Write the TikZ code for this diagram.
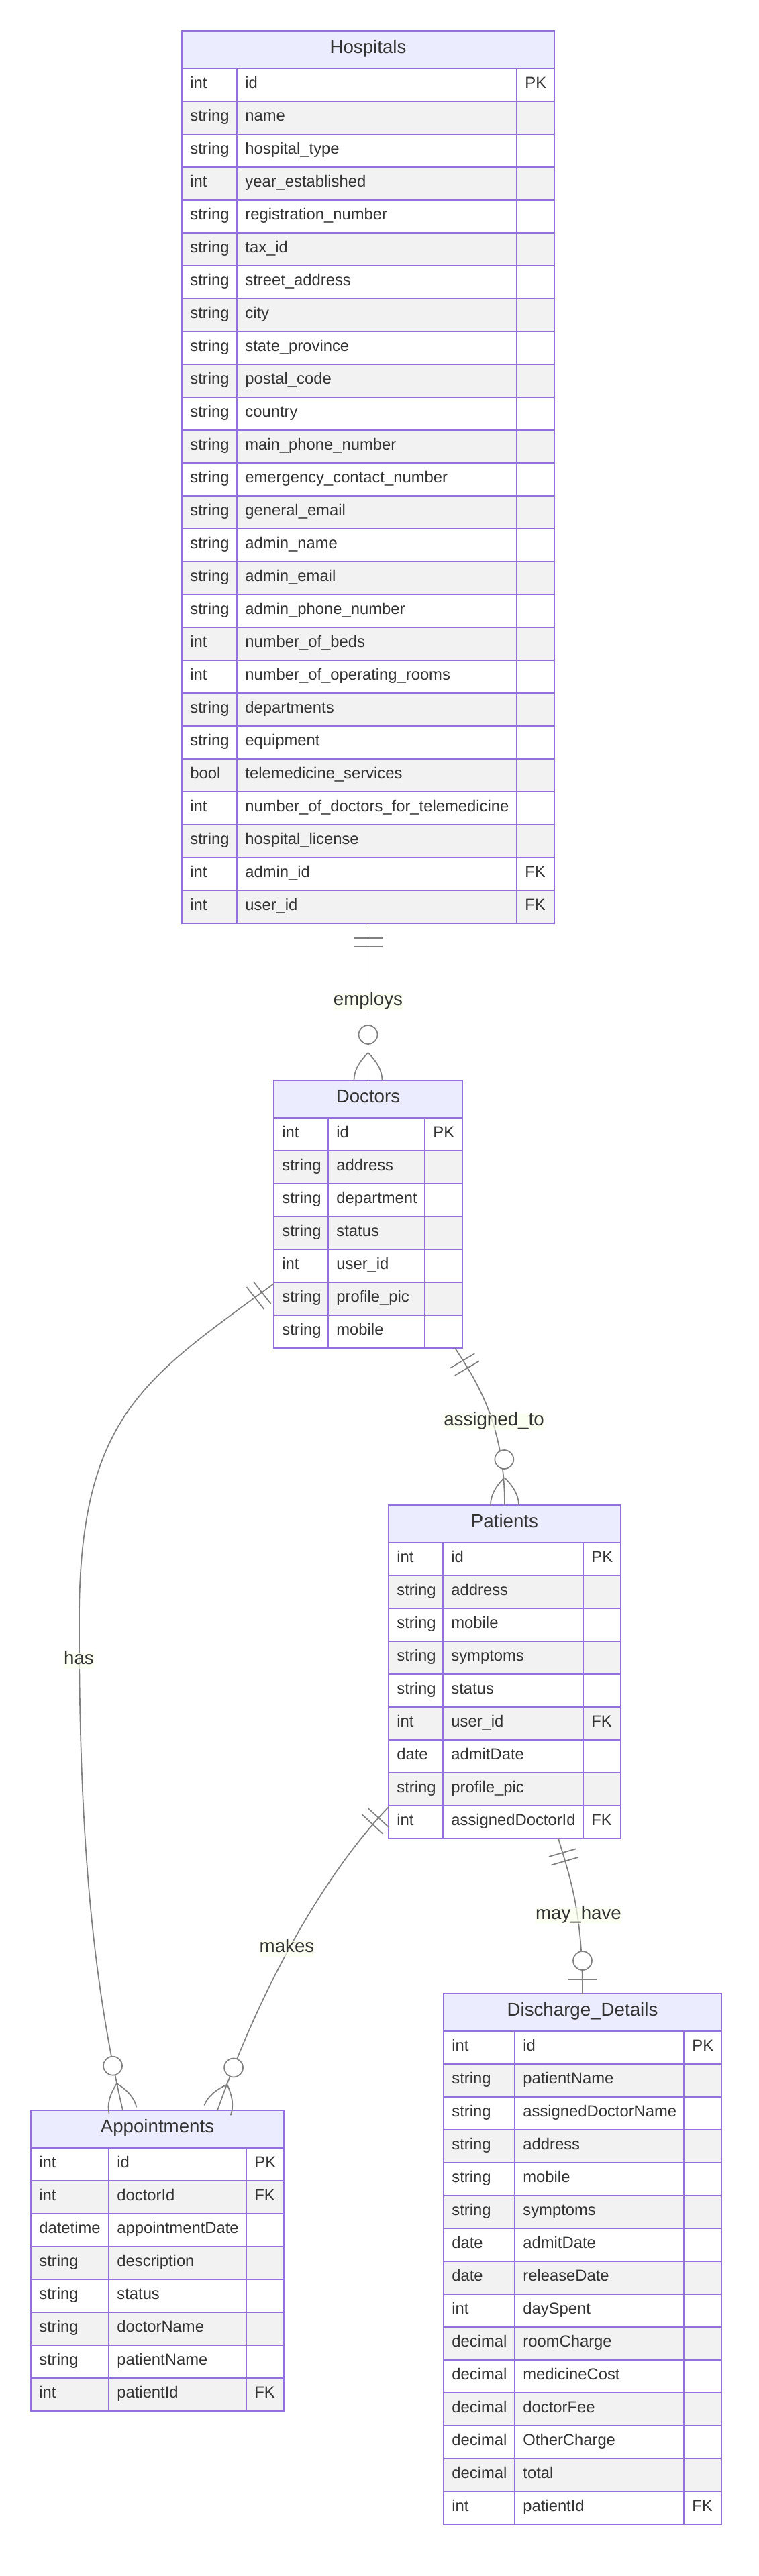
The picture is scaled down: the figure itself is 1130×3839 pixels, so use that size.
\documentclass[tikz,border=0pt]{standalone}
\usepackage{fontspec}
\setmainfont{Liberation Sans}
\usetikzlibrary{calc}

\definecolor{erborder}{HTML}{9370DB}
\definecolor{erhead}{HTML}{ECECFF}
\definecolor{ereven}{HTML}{F2F2F2}
\definecolor{ertext}{HTML}{333333}
\definecolor{erlink}{HTML}{808080}
\definecolor{erlabel}{RGB}{249,255,236}

\tikzset{
  cellbox/.style={draw=erborder,line width=1pt},
  headtext/.style={font=\fontsize{13.85}{16}\selectfont,text=ertext,inner sep=0pt,text height=0.72em,text depth=0.2em},
  attrtext/.style={font=\fontsize{11.9}{14}\selectfont,text=ertext,inner sep=0pt,anchor=west,text height=0.72em,text depth=0.2em},
  relline/.style={draw=erlink,line width=0.85pt},
  rellabel/.style={font=\fontsize{13.85}{16}\selectfont,text=ertext,fill=erlabel,fill opacity=0.7,text opacity=1,inner xsep=0pt,inner ysep=1.2pt,text height=0.75em,text depth=0.22em}
}

% entity: name, left, split1, split2, right, top, rows, title, {type/name/key,...}
\newcommand{\erentity}[9]{%
  \pgfmathsetmacro{\eb}{#6+56+#7*49}
  \pgfmathsetmacro{\ew}{(#5-#2)*0.5}
  \pgfmathsetmacro{\eh}{(\eb-#6)*0.5}
  \node[inner sep=0pt,outer sep=0pt,minimum width=\ew pt,minimum height=\eh pt] (#1) at ({(#2+#5)/2},{(#6+\eb)/2}) {};
  \draw[cellbox,fill=erhead] (#2,#6) rectangle (#5,#6+56);
  \node[headtext] (#1-title) at ({(#2+#5)/2},#6+28) {#8};
  \foreach \ty/\na/\ke [count=\i] in {#9} {
    \pgfmathsetmacro{\ya}{#6+56+(\i-1)*49}
    \pgfmathsetmacro{\yb}{\ya+49}
    \pgfmathsetmacro{\ym}{\ya+24.5}
    \ifodd\i\relax\def\rowfill{white}\else\def\rowfill{ereven}\fi
    \draw[cellbox,fill=\rowfill] (#2,\ya) rectangle (#3,\yb);
    \draw[cellbox,fill=\rowfill] (#3,\ya) rectangle (#4,\yb);
    \draw[cellbox,fill=\rowfill] (#4,\ya) rectangle (#5,\yb);
    \node[attrtext] (#1-t\i) at (#2+12,\ym) {\ty};
    \node[attrtext] (#1-n\i) at (#3+12,\ym) {\na};
    \node[attrtext] (#1-k\i) at (#4+12,\ym) {\ke};
  }
}

% markers: entity point, direction point
\newcommand{\markone}[2]{%
  \foreach \d in {11pt,17.5pt} {
    \coordinate (mk) at ($(#1)!\d!(#2)$);
    \draw[relline] ($(mk)!10.5pt!90:(#2)$) -- ($(mk)!10.5pt!-90:(#2)$);
  }
}
\newcommand{\markmany}[2]{%
  \coordinate (mk-a) at ($(#1)!20.5pt!(#2)$);
  \coordinate (mk-c) at ($(#1)!13.67pt!(#2)$);
  \coordinate (mk-d) at ($(#1)!6.83pt!(#2)$);
  \draw[relline] (mk-a) .. controls ($(mk-c)!7pt!90:(#2)$) and ($(mk-d)!10.5pt!90:(#2)$) .. ($(#1)!10.5pt!90:(#2)$);
  \draw[relline] (mk-a) .. controls ($(mk-c)!7pt!-90:(#2)$) and ($(mk-d)!10.5pt!-90:(#2)$) .. ($(#1)!10.5pt!-90:(#2)$);
  \draw[relline,fill=white] ($(#1)!34pt!(#2)$) circle (7pt);
}
\newcommand{\markzeroone}[2]{%
  \coordinate (mk) at ($(#1)!10.5pt!(#2)$);
  \draw[relline] ($(mk)!10.5pt!90:(#2)$) -- ($(mk)!10.5pt!-90:(#2)$);
  \draw[relline,fill=white] ($(#1)!24.5pt!(#2)$) circle (7pt);
}

\begin{document}
\begin{tikzpicture}[x=0.5pt,y=-0.5pt]
\useasboundingbox (0,0) rectangle (1130,3839);

\erentity{hosp}{271}{353}{770}{826}{46}{26}{Hospitals}{int/id/PK, string/name/, string/hospital\_type/, int/year\_established/, string/registration\_number/, string/tax\_id/, string/street\_address/, string/city/, string/state\_province/, string/postal\_code/, string/country/, string/main\_phone\_number/, string/emergency\_contact\_number/, string/general\_email/, string/admin\_name/, string/admin\_email/, string/admin\_phone\_number/, int/number\_of\_beds/, int/number\_of\_operating\_rooms/, string/departments/, string/equipment/, bool/telemedicine\_services/, int/number\_of\_doctors\_for\_telemedicine/, string/hospital\_license/, int/admin\_id/FK, int/user\_id/FK}
\erentity{doc}{408}{489}{633}{689}{1610}{7}{Doctors}{int/id/PK, string/address/, string/department/, string/status/, int/user\_id/, string/profile\_pic/, string/mobile/}
\erentity{pat}{579}{660}{869}{925}{2243}{9}{Patients}{int/id/PK, string/address/, string/mobile/, string/symptoms/, string/status/, int/user\_id/FK, date/admitDate/, string/profile\_pic/, int/assignedDoctorId/FK}
\erentity{dis}{661}{767}{1019}{1075}{2971}{15}{Discharge\_Details}{int/id/PK, string/patientName/, string/assignedDoctorName/, string/address/, string/mobile/, string/symptoms/, date/admitDate/, date/releaseDate/, int/daySpent/, decimal/roomCharge/, decimal/medicineCost/, decimal/doctorFee/, decimal/OtherCharge/, decimal/total/, int/patientId/FK}
\erentity{appt}{46}{162}{367}{423}{3145}{8}{Appointments}{int/id/PK, int/doctorId/FK, datetime/appointmentDate/, string/description/, string/status/, string/doctorName/, string/patientName/, int/patientId/FK}

\coordinate (doc-a) at ($(doc.south east)+(-11,0)$);
\coordinate (doc-b) at ($(doc.north west)+(0,303)$);
\coordinate (pat-a) at ($(pat.south west)+(0,-47)$);
\coordinate (pat-b) at ($(pat.south west)+(253,0)$);
\coordinate (appt-a) at ($(appt.north west)+(137,0)$);
\coordinate (appt-b) at ($(appt.north west)+(278,0)$);

\draw[relline] (hosp.south) -- (doc.north);
\draw[relline] (doc-a) .. controls (708,2055) and (752,2120) .. (pat.north);
\draw[relline] (doc-b) .. controls (215,2055) and (117,2110) .. (118,2420) .. controls (118,2750) and (140,2960) .. (appt-a);
\draw[relline] (pat-a) .. controls (500,2775) and (400,2930) .. (appt-b);
\draw[relline] (pat-b) .. controls (850,2800) and (868,2850) .. (dis.north);

\markone{hosp.south}{548.5,1476}
\markmany{doc.north}{548.5,1510}
\markone{doc-a}{729,2095}
\markmany{pat.north}{751,2140}
\markone{doc-b}{297,2000}
\markmany{appt-a}{160,3043}
\markone{pat-a}{533,2743}
\markmany{appt-b}{361.5,3046}
\markone{pat-b}{862,2844}
\markzeroone{dis.north}{868,2900}

\node[rellabel] (employs) at (548.5,1493) {employs};
\node[rellabel] (assignedto) at (736,2119) {assigned\_to};
\node[rellabel] (has) at (117.5,2475) {has};
\node[rellabel] (makes) at (427.5,2904) {makes};
\node[rellabel] (mayhave) at (862,2855) {may\_have};
\end{tikzpicture}
\end{document}
